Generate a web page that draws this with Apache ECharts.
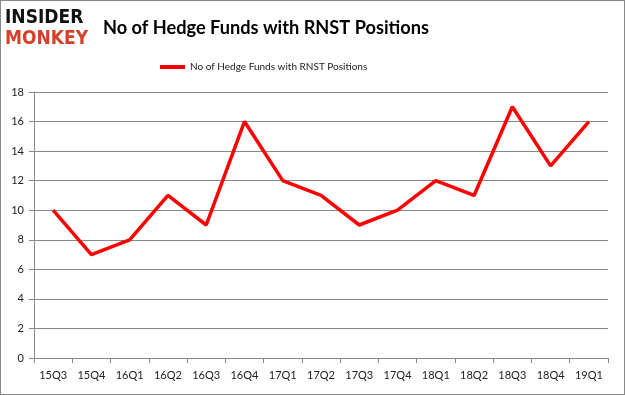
<!DOCTYPE html>
<html><head><meta charset="utf-8">
<script src="https://cdn.jsdelivr.net/npm/echarts@6/dist/echarts.min.js"></script>
<style>html,body{margin:0;padding:0;background:#fff}#c{width:625px;height:395px;box-sizing:border-box;border:1px solid #888}</style>
</head><body><div id="c"></div>
<script>
const categories = ['15Q3','15Q4','16Q1','16Q2','16Q3','16Q4','17Q1','17Q2','17Q3','17Q4','18Q1','18Q2','18Q3','18Q4','19Q1'];
const fundCounts = [10,7,8,11,9,16,12,11,9,10,12,11,17,13,16];
const yTicks = {min:0, max:18, interval:2};
const seriesName = 'No of Hedge Funds with RNST Positions';
const titleText = 'No of Hedge Funds with RNST Positions';

const chart = echarts.init(document.getElementById('c'), null, {renderer:'canvas'});
const font = 'Lato, "Open Sans", sans-serif';
chart.setOption({
  animation:false,
  title:{text:titleText,left:97,top:13,textStyle:{fontFamily:font,fontSize:18.2,fontWeight:'bold',color:'#000'}},
  legend:{top:56,left:154,itemWidth:25,itemHeight:4,icon:'rect',itemGap:3,
    textStyle:{fontFamily:font,fontSize:10,color:'#222'},data:[seriesName]},
  graphic:[
    {type:'text',left:4,top:8,style:{text:'INSIDER',font:'bold 19px "DejaVu Sans Condensed", "DejaVu Sans", sans-serif',fill:'#111'}},
    {type:'text',left:4,top:29,style:{text:'MONKEY',font:'bold 19px "DejaVu Sans Condensed", "DejaVu Sans", sans-serif',fill:'#d6402b'}}
  ],
  grid:{left:33,right:16,top:91,bottom:36,containLabel:false},
  xAxis:{type:'category',data:categories,boundaryGap:true,
    axisLine:{lineStyle:{color:'#888'}},axisTick:{show:true,alignWithLabel:false,length:5,lineStyle:{color:'#888'}},
    axisLabel:{fontFamily:font,fontSize:11,color:'#222',margin:12}},
  yAxis:{type:'value',min:yTicks.min,max:yTicks.max,interval:yTicks.interval,
    axisLine:{show:true,lineStyle:{color:'#888'}},axisTick:{show:true,length:5,inside:false,lineStyle:{color:'#888'}},
    splitLine:{lineStyle:{color:'#888',width:1}},
    axisLabel:{fontFamily:font,fontSize:11,color:'#222',margin:10}},
  series:[{name:seriesName,type:'line',data:fundCounts,symbol:'none',
    lineStyle:{color:'#ff0000',width:3.5},itemStyle:{color:'#ff0000'}}]
});
</script></body></html>
